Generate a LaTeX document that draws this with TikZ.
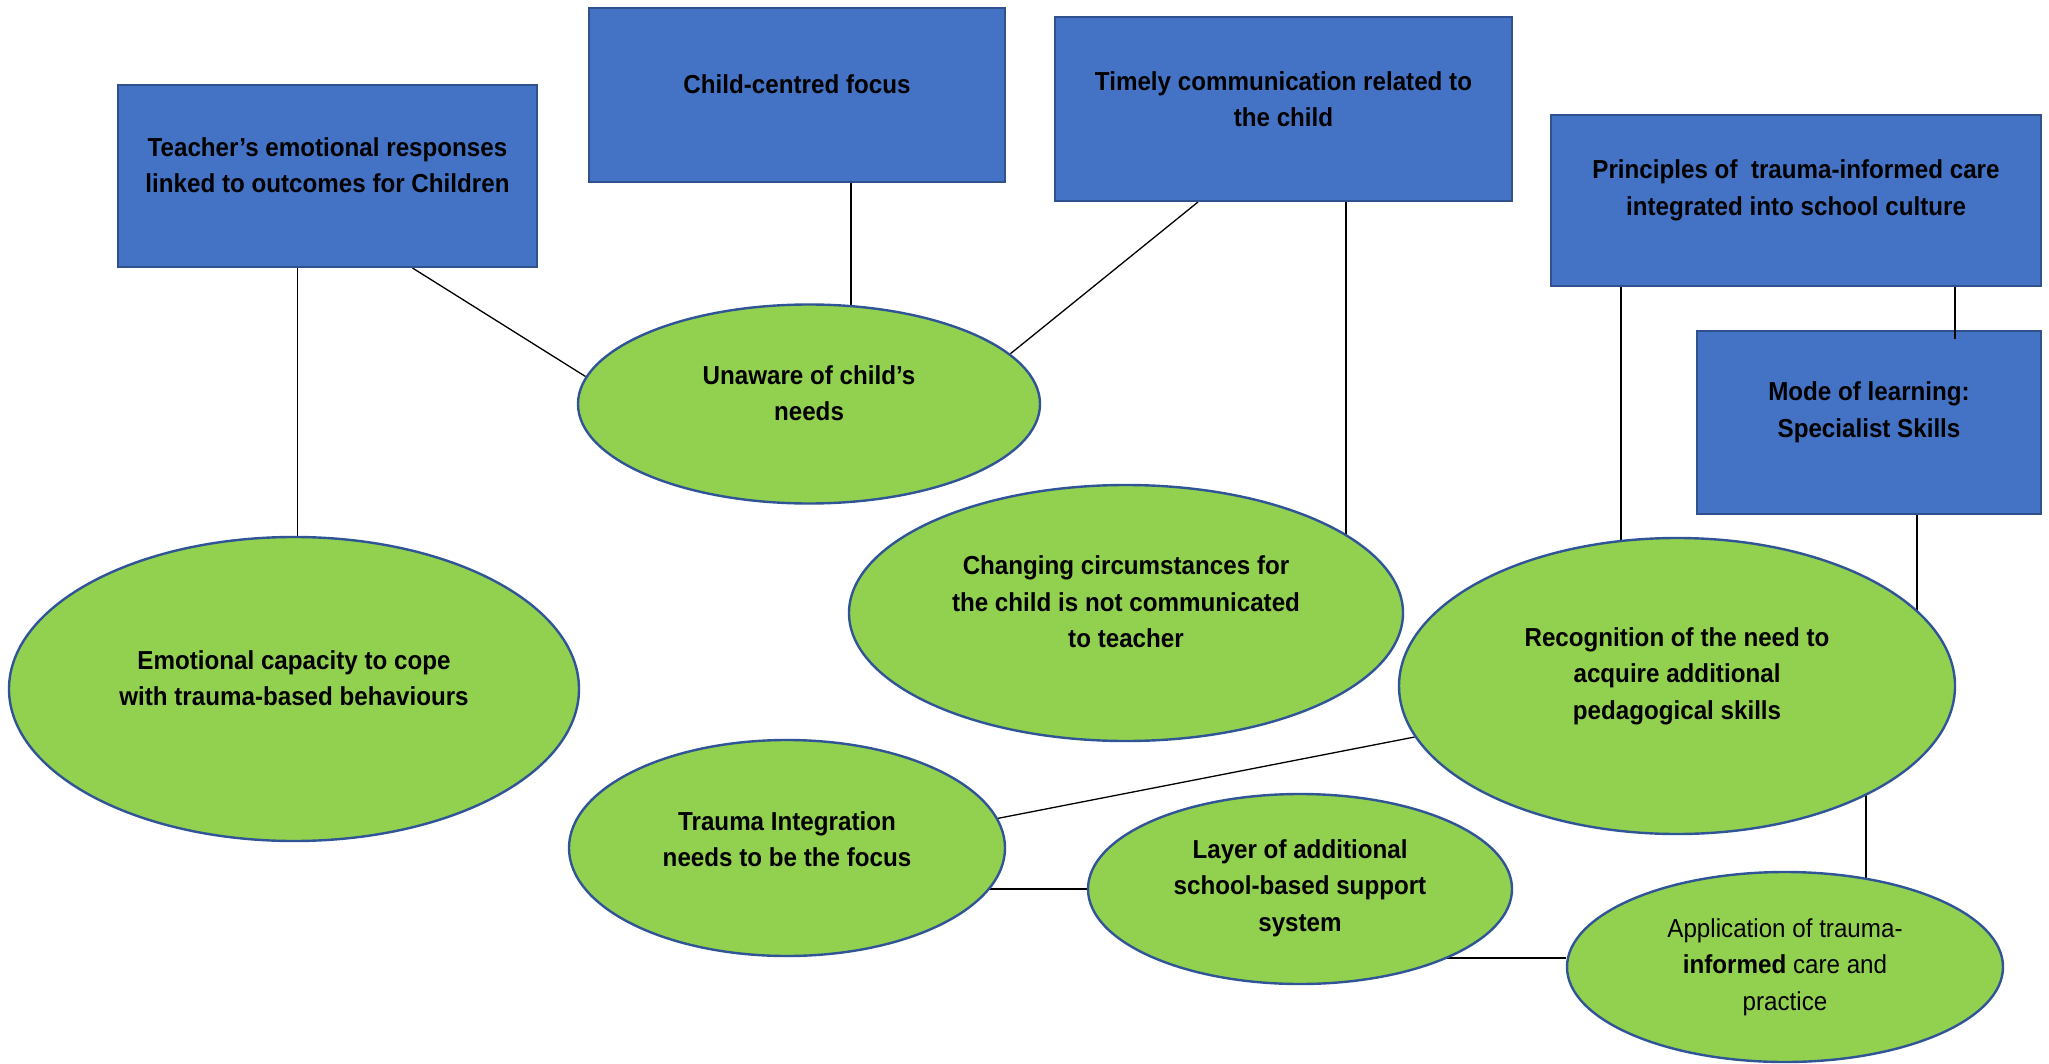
\documentclass[tikz,border=0pt]{standalone}
\usepackage{fontspec}
\setmainfont{Liberation Sans}[FakeStretch=0.93]
\usetikzlibrary{shapes.geometric}
\pgfdeclarelayer{bg}
\pgfsetlayers{bg,main}
\definecolor{boxblue}{HTML}{4472C4}
\definecolor{boxedge}{HTML}{2F528F}
\definecolor{ovalgreen}{HTML}{92D050}
\definecolor{ovaledge}{HTML}{2F5597}
\begin{document}
\begin{tikzpicture}[x=1pt,y=-1pt,
  topic/.style={rectangle, draw=boxedge, line width=2pt, fill=boxblue, inner sep=0pt},
  theme/.style={ellipse, draw=ovaledge, line width=2.4pt, fill=ovalgreen, inner sep=0pt},
  caption/.style={align=center, font=\fontsize{26}{36.5}\selectfont\bfseries, inner sep=0pt},
  link/.style={line width=1.3pt, black}]
\useasboundingbox (0,0) rectangle (2049,1064);

% rectangles
\node[topic, minimum width=419pt, minimum height=182pt] (b1) at (327.5,176) {};
\node[topic, minimum width=416pt, minimum height=174pt] (b2) at (797,95) {};
\node[topic, minimum width=457pt, minimum height=184pt] (b3) at (1283.5,109) {};
\node[topic, minimum width=490pt, minimum height=171pt] (b4) at (1796,200.5) {};
\node[topic, minimum width=344pt, minimum height=183pt] (b5) at (1869,422.5) {};

% ellipses
\node[theme, minimum width=462pt, minimum height=199pt] (e1) at (809,404) {};
\node[theme, minimum width=570pt, minimum height=304pt] (e2) at (294,689) {};
\node[theme, minimum width=554pt, minimum height=256pt] (e3) at (1126,613) {};
\node[theme, minimum width=556pt, minimum height=296pt] (e4) at (1677,686) {};
\node[theme, minimum width=436pt, minimum height=216pt] (e5) at (787,848) {};
\node[theme, minimum width=424pt, minimum height=190pt] (e6) at (1300,889) {};
\node[theme, minimum width=436pt, minimum height=190pt] (e7) at (1785,967) {};

% captions
\node[caption] (t1) at ([yshift=11pt]b1.center) {Teacher’s emotional responses\\linked to outcomes for Children};
\node[caption] (t2) at ([yshift=11pt]b2.center) {Child-centred focus};
\node[caption] (t3) at ([yshift=10pt]b3.center) {Timely communication related to\\the child};
\node[caption] (t4) at ([yshift=10pt]b4.center) {Principles of\ \ trauma-informed care\\integrated into school culture};
\node[caption] (t5) at ([yshift=10pt]b5.center) {Mode of learning:\\Specialist Skills};
\node[caption] (t6) at ([yshift=11pt]e1.center) {Unaware of child’s\\needs};
\node[caption] (t7) at ([yshift=11pt]e2.center) {Emotional capacity to cope\\with trauma-based behaviours};
\node[caption] (t8) at ([yshift=11pt]e3.center) {Changing circumstances for\\the child is not communicated\\to teacher};
\node[caption] (t9) at ([yshift=10pt]e4.center) {Recognition of the need to\\acquire additional\\pedagogical skills};
\node[caption] (t10) at ([yshift=9pt]e5.center) {Trauma Integration\\needs to be the focus};
\node[caption] (t11) at ([yshift=1pt]e6.center) {Layer of additional\\school-based support\\system};
\node[caption, font=\fontsize{26}{36.5}\selectfont] (t12) at (e7.center) {Application of trauma-\\\textbf{informed} care and\\practice};

% connectors behind the shapes
\begin{pgfonlayer}{bg}
\draw[link] ([xshift=-30pt]b1.south) -- ([xshift=-30pt]b1.south |- e2.center);
\draw[link] ([xshift=85pt]b1.south) -- (e1.173.5);
\draw[link] ([xshift=54pt]b2.south) -- ([xshift=54pt]b2.south |- e1.center);
\draw[link] ([xshift=-85.5pt]b3.south) -- (e1.14);
\draw[link] ([xshift=62.5pt]b3.south) -- ([xshift=62.5pt]b3.south |- e3.center);
\draw[link] ([xshift=-175pt]b4.south) -- ([xshift=-175pt]b4.south |- e4.center);
\draw[link] ([xshift=48pt]b5.south) -- ([xshift=48pt]b5.south |- e4.center);
\draw[link] (e4.191.6) -- (e5.8.3);
\draw[link] (e6.west) -- (e6.west -| e5.center);
\draw[link] ([yshift=9pt]e7.west) -- ([yshift=9pt]e7.west -| e6.center);
\draw[link] ([xshift=189pt]e4.center) -- ([xshift=189pt]e4.center |- e7.center);
\end{pgfonlayer}
% this one runs into the lower box
\draw[link] ([xshift=159pt]b4.south) -- ([xshift=159pt,yshift=-9pt]b4.south |- b5.north);
\end{tikzpicture}
\end{document}
